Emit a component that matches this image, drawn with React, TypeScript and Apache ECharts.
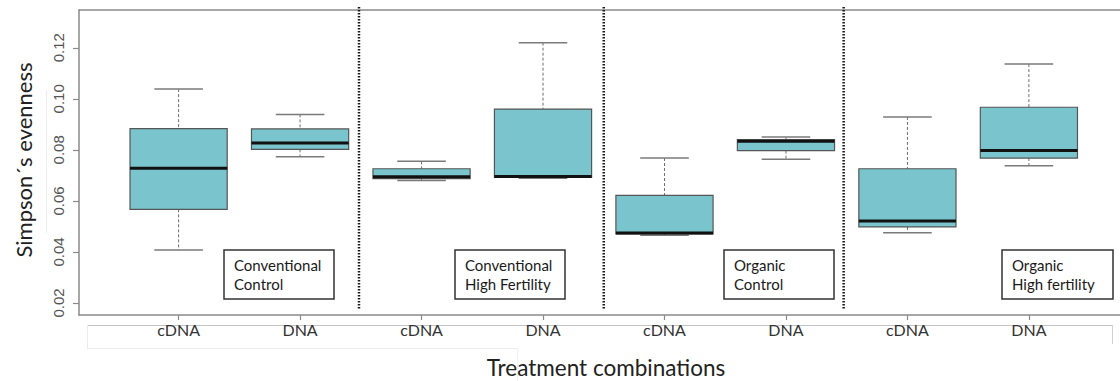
import React, { useEffect, useRef } from "react";
import * as echarts from "echarts";

// Sample labels along the x axis, one box per position (1..8)
const categories = ["cDNA", "DNA", "cDNA", "DNA", "cDNA", "DNA", "cDNA", "DNA"];

// Five-number summaries of Simpson's evenness per sample
const whiskerLow = [0.0408, 0.0773, 0.068, 0.0689, 0.0465, 0.0763, 0.0475, 0.0738];
const quartile1 = [0.0567, 0.0802, 0.0687, 0.0692, 0.0471, 0.0797, 0.0498, 0.0768];
const medians = [0.0728, 0.0827, 0.0695, 0.0696, 0.0474, 0.0834, 0.0521, 0.0798];
const quartile3 = [0.0883, 0.0882, 0.0726, 0.096, 0.0622, 0.084, 0.0726, 0.0967];
const whiskerHigh = [0.1038, 0.0939, 0.0755, 0.122, 0.0768, 0.085, 0.0929, 0.1136];

// Treatment groups and the dividers between them (x positions)
const treatmentNames = [
  "Conventional\nControl",
  "Conventional\nHigh Fertility",
  "Organic\nControl",
  "Organic\nHigh fertility",
];
const groupDividers = [2.485, 4.5, 6.475];

// Axis tick values
const yTicks = [0.02, 0.04, 0.06, 0.08, 0.1, 0.12];
const xTicks = [1, 2, 3, 4, 5, 6, 7, 8];

// Layout of the treatment note boxes: [left, top, width, height] in px
const noteLayout = [
  [224, 250, 110, 49],
  [455, 250, 110, 49],
  [724, 250, 110, 49],
  [1002, 250, 111, 49],
];

const X_MIN = 0.18;
const X_MAX = 8.75;
const Y_MIN = 0.0153;
const Y_MAX = 0.1348;
const BOX_WIDTH = 0.8;

const AXIS_GRAY = "#8a8a8a";
const BOX_FILL = "#7AC5CD";

export default function App() {
  const ref = useRef<HTMLDivElement>(null);

  useEffect(() => {
    if (!ref.current) return;
    const chart = echarts.init(ref.current, null, { renderer: "svg" });

    const boxData = categories.map((_, i) => [
      i + 1,
      whiskerLow[i],
      quartile1[i],
      medians[i],
      quartile3[i],
      whiskerHigh[i],
    ]);

    const renderBox = (_params: any, api: any) => {
      const x = api.value(0);
      const pLo = api.coord([x, api.value(1)]);
      const pQ1 = api.coord([x, api.value(2)]);
      const pMd = api.coord([x, api.value(3)]);
      const pQ3 = api.coord([x, api.value(4)]);
      const pHi = api.coord([x, api.value(5)]);
      const half = api.size([BOX_WIDTH, 0])[0] / 2;
      const capHalf = half / 2;
      const cx = pMd[0];
      const whiskerStyle = { stroke: "#6e6e6e", lineWidth: 1, lineDash: [3, 2] };
      const capStyle = { stroke: "#7a7a7a", lineWidth: 1.5 };
      return {
        type: "group",
        children: [
          { type: "line", shape: { x1: cx, y1: pHi[1], x2: cx, y2: pQ3[1] }, style: whiskerStyle },
          { type: "line", shape: { x1: cx, y1: pQ1[1], x2: cx, y2: pLo[1] }, style: whiskerStyle },
          { type: "line", shape: { x1: cx - capHalf, y1: pHi[1], x2: cx + capHalf, y2: pHi[1] }, style: capStyle },
          { type: "line", shape: { x1: cx - capHalf, y1: pLo[1], x2: cx + capHalf, y2: pLo[1] }, style: capStyle },
          {
            type: "rect",
            shape: { x: cx - half, y: pQ3[1], width: half * 2, height: pQ1[1] - pQ3[1] },
            style: { fill: BOX_FILL, stroke: "#555555", lineWidth: 1.2 },
          },
          {
            type: "line",
            shape: { x1: cx - half, y1: pMd[1], x2: cx + half, y2: pMd[1] },
            style: { stroke: "#111111", lineWidth: 3 },
          },
        ],
      };
    };

    const renderDivider = (_params: any, api: any) => {
      const x = api.value(0);
      const top = api.coord([x, Y_MAX]);
      const bottom = api.coord([x, Y_MIN]);
      return {
        type: "line",
        shape: { x1: top[0], y1: top[1] - 3, x2: bottom[0], y2: bottom[1] - 5 },
        style: { stroke: "#1a1a1a", lineWidth: 2.5, lineDash: [1.6, 1.4] },
      };
    };

    const faint = (x1: number, y1: number, x2: number, y2: number, color: string) => ({
      type: "line",
      shape: { x1, y1, x2, y2 },
      style: { stroke: color, lineWidth: 1 },
      silent: true,
    });

    const notes: any[] = [];
    treatmentNames.forEach((name, i) => {
      const [left, top, w, h] = noteLayout[i];
      notes.push({
        type: "rect",
        shape: { x: left, y: top, width: w, height: h },
        style: { fill: "#ffffff", stroke: "#333333", lineWidth: 1.5 },
        z: 10,
      });
      notes.push({
        type: "text",
        x: left + 10,
        y: top + h / 2,
        style: {
          text: name,
          fontFamily: "Lato",
          fontSize: 15,
          lineHeight: 19,
          fill: "#1a1a1a",
          align: "left",
          verticalAlign: "middle",
        },
        z: 11,
      });
    });

    chart.setOption({
      animation: false,
      backgroundColor: "#ffffff",
      grid: {
        left: 79,
        top: 10,
        right: 0,
        bottom: 66,
        containLabel: false,
        outerBoundsMode: "none",
      },
      xAxis: [
        {
          type: "value",
          position: "bottom",
          min: X_MIN,
          max: X_MAX,
          axisLine: { show: true, onZero: false, lineStyle: { color: AXIS_GRAY, width: 1.5 } },
          axisTick: {
            show: true,
            customValues: xTicks,
            length: 5,
            lineStyle: { color: AXIS_GRAY, width: 1.2 },
          },
          axisLabel: {
            show: true,
            customValues: xTicks,
            formatter: (v: number) => categories[Math.round(v) - 1] ?? "",
            margin: 6,
            fontFamily: "Lato",
            fontSize: 16,
            color: "#333333",
          },
          splitLine: { show: false },
        },
        {
          type: "value",
          position: "top",
          min: X_MIN,
          max: X_MAX,
          axisLine: { show: true, onZero: false, lineStyle: { color: AXIS_GRAY, width: 1.5 } },
          axisTick: { show: false },
          axisLabel: { show: false },
          splitLine: { show: false },
        },
      ],
      yAxis: {
        type: "value",
        min: Y_MIN,
        max: Y_MAX,
        axisLine: { show: true, onZero: false, lineStyle: { color: AXIS_GRAY, width: 1.5 } },
        axisTick: {
          show: true,
          customValues: yTicks,
          length: 6,
          lineStyle: { color: AXIS_GRAY, width: 1.2 },
        },
        axisLabel: {
          show: true,
          customValues: yTicks,
          rotate: 90,
          margin: 13,
          formatter: (v: number) => v.toFixed(2),
          fontFamily: "Liberation Sans",
          fontSize: 15,
          color: "#555555",
        },
        splitLine: { show: false },
      },
      series: [
        {
          type: "custom",
          name: "Dividers",
          xAxisIndex: 0,
          renderItem: renderDivider,
          data: groupDividers.map((v) => [v, Y_MIN]),
          encode: { x: 0, y: 1 },
          clip: false,
          silent: true,
          z: 3,
        },
        {
          type: "custom",
          name: "Simpson's evenness",
          xAxisIndex: 0,
          renderItem: renderBox,
          data: boxData,
          encode: { x: 0, y: [1, 2, 3, 4, 5] },
          z: 4,
        },
      ],
      graphic: [
        faint(87, 325.5, 1112, 325.5, "#c4c4c4"),
        faint(1112.5, 325, 1112.5, 344, "#d2d2d2"),
        faint(87.5, 325, 87.5, 348, "#ececec"),
        faint(87, 348.5, 517, 348.5, "#ececec"),
        faint(517.5, 348, 517.5, 381, "#f0f0f0"),
        faint(46.5, 90, 46.5, 233, "#ececec"),
        {
          type: "text",
          x: 23,
          y: 160,
          rotation: Math.PI / 2,
          style: {
            text: "Simpson´s evenness",
            fontFamily: "Lato",
            fontSize: 22,
            fill: "#222222",
            align: "center",
            verticalAlign: "middle",
          },
        },
        {
          type: "text",
          x: 606,
          y: 367,
          style: {
            text: "Treatment combinations",
            fontFamily: "Lato",
            fontSize: 22.5,
            fill: "#222222",
            align: "center",
            verticalAlign: "middle",
          },
        },
        ...notes,
      ],
    });

    return () => chart.dispose();
  }, []);

  return (
    <div
      ref={ref}
      style={{ position: "fixed", left: 0, top: 0, width: 1120, height: 381, background: "#fff" }}
    />
  );
}
